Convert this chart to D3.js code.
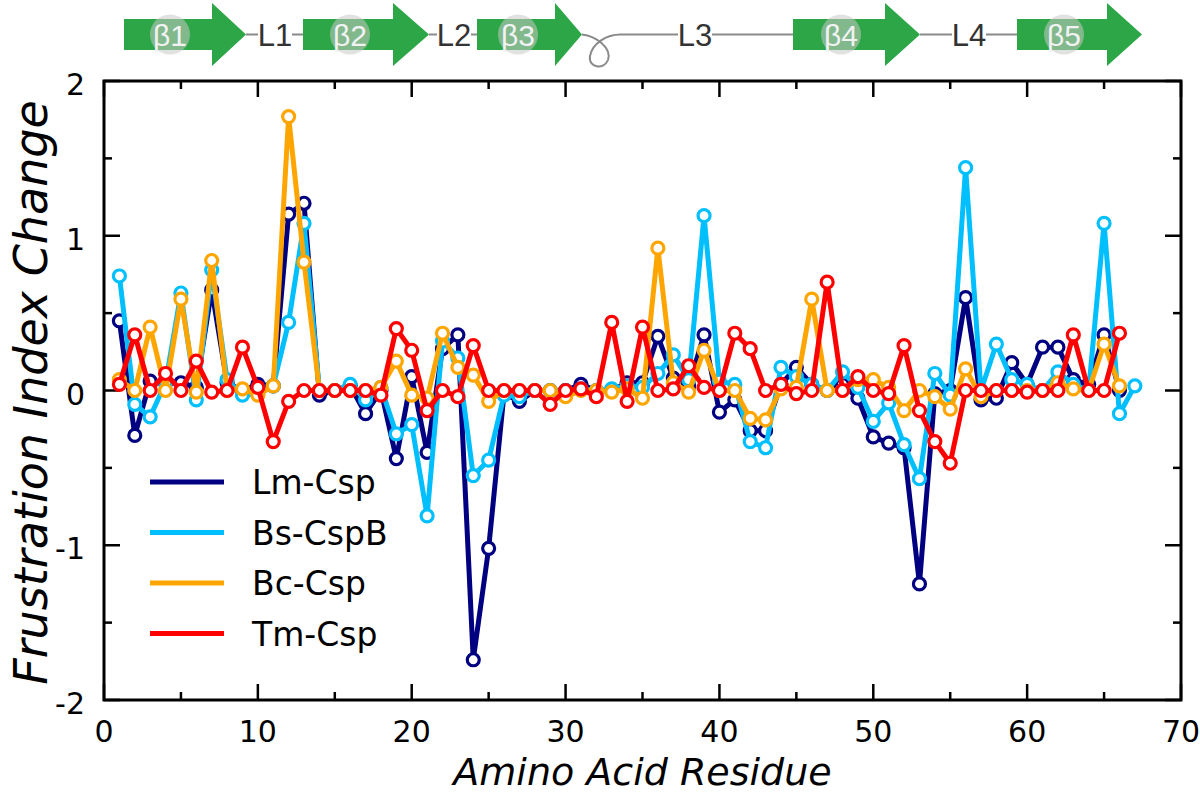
<!DOCTYPE html>
<html>
<head>
<meta charset="utf-8">
<script src="https://cdn.jsdelivr.net/npm/d3@7"></script>
<style>
  body { margin: 0; background: #fff; }
  svg { display: block; font-family: "DejaVu Sans", sans-serif; }
</style>
</head>
<body>
<div id="chart"></div>
<script>
// residues
var residues = d3.range(1, 67);
var residuesBs = d3.range(1, 68);

// frustration index change per residue
var lmCsp = [0.45, -0.29, 0.06, 0.05, 0.05, 0.02, 0.65, 0.05, 0.00, 0.04,
  0.03, 1.14, 1.21, -0.03, 0.00, 0.03, -0.15, 0.00, -0.44, 0.09,
  -0.40, 0.27, 0.36, -1.74, -1.02, -0.02, -0.07, 0.00, 0.00, 0.00,
  0.04, 0.00, 0.00, 0.05, 0.05, 0.35, 0.08, 0.03, 0.36, -0.14,
  -0.06, -0.26, -0.26, 0.04, 0.15, 0.04, 0.00, 0.04, -0.05, -0.30,
  -0.34, -0.37, -1.25, -0.02, 0.00, 0.60, -0.06, -0.05, 0.18, 0.04,
  0.28, 0.28, 0.07, 0.04, 0.36, 0.00];
var bsCspB = [0.74, -0.09, -0.17, 0.05, 0.63, -0.06, 0.78, 0.07, -0.03, -0.02,
  0.03, 0.44, 1.08, 0.00, 0.00, 0.04, -0.06, 0.02, -0.28, -0.22,
  -0.81, 0.32, 0.21, -0.55, -0.45, -0.03, -0.04, 0.00, 0.00, 0.00,
  0.01, 0.00, 0.01, 0.03, 0.02, 0.11, 0.23, 0.07, 1.13, 0.06,
  0.04, -0.33, -0.37, 0.15, 0.09, 0.04, 0.00, 0.12, 0.02, -0.20,
  -0.08, -0.35, -0.57, 0.11, -0.03, 1.44, 0.00, 0.30, 0.07, 0.04,
  0.00, 0.12, 0.04, 0.00, 1.08, -0.15, 0.03];
var bcCsp = [0.07, 0.00, 0.41, 0.00, 0.59, -0.01, 0.84, 0.00, 0.01, -0.03,
  0.03, 1.77, 0.83, 0.00, 0.00, 0.00, 0.00, 0.02, 0.19, -0.03,
  -0.05, 0.37, 0.15, 0.10, -0.07, 0.00, 0.00, 0.00, 0.00, -0.04,
  0.00, 0.00, -0.01, 0.01, -0.05, 0.92, 0.05, -0.01, 0.26, 0.00,
  0.00, -0.18, -0.19, 0.01, 0.02, 0.59, 0.00, 0.00, 0.07, 0.07,
  0.02, -0.13, 0.00, -0.04, -0.12, 0.14, -0.04, 0.00, 0.00, 0.00,
  0.00, 0.05, 0.01, 0.00, 0.30, 0.03];
var tmCsp = [0.04, 0.36, 0.00, 0.11, 0.00, 0.19, -0.01, 0.00, 0.28, 0.02,
  -0.33, -0.07, 0.00, 0.00, 0.00, 0.00, 0.00, -0.03, 0.40, 0.26,
  -0.13, 0.00, -0.04, 0.29, 0.00, 0.00, 0.00, 0.00, -0.09, 0.00,
  0.01, -0.04, 0.44, -0.07, 0.41, 0.00, 0.01, 0.16, 0.02, 0.00,
  0.37, 0.27, 0.00, 0.04, -0.02, 0.00, 0.70, 0.00, 0.09, 0.00,
  -0.02, 0.29, -0.13, -0.33, -0.47, 0.00, 0.00, 0.00, 0.00, -0.01,
  0.00, 0.00, 0.36, 0.00, 0.00, 0.37];

var seriesNames = ["Lm-Csp", "Bs-CspB", "Bc-Csp", "Tm-Csp"];
var seriesColors = ["#000080", "#00bfff", "#ffa500", "#ff0000"];

var xTicks = [0, 10, 20, 30, 40, 50, 60, 70];
var yTicks = [-2, -1, 0, 1, 2];

// secondary structure strip (drawn in page pixels along the top)
var strands = [
  {label: "β1", x0: 124, x1: 212, tip: 246},
  {label: "β2", x0: 303, x1: 393, tip: 429},
  {label: "β3", x0: 477, x1: 555, tip: 582},
  {label: "β4", x0: 793, x1: 885, tip: 920},
  {label: "β5", x0: 1017, x1: 1107, tip: 1142}
];
var loops = [
  {label: "L1", x: 275},
  {label: "L2", x: 454},
  {label: "L3", x: 695},
  {label: "L4", x: 969}
];

var width = 1200, height = 795;
var pad = {left: 104, right: 19, top: 81, bottom: 95};

var svg = d3.select('#chart').append('svg')
  .attr('width', width)
  .attr('height', height);

var x = d3.scaleLinear().domain([0, 70]).range([pad.left, width - pad.right]);
var y = d3.scaleLinear().domain([-2, 2]).range([height - pad.bottom, pad.top]);

// ---- topology strip ----
var strip = svg.append('g');
var midY = 34.5;

var links = [[246, 303], [429, 477], [622, 793], [920, 1017]];
strip.selectAll('.link')
  .data(links)
  .enter()
  .append('line')
  .attr('x1', function(d){ return d[0]; })
  .attr('x2', function(d){ return d[1]; })
  .attr('y1', midY).attr('y2', midY)
  .attr('stroke', '#8a8a8a').attr('stroke-width', 2);

// the little loop after beta3
strip.append('path')
  .attr('d', 'M582,' + midY + ' C596,36 612,48 608,60 C604,70 588,68 590,56 C592,44 606,34 622,' + midY)
  .attr('fill', 'none')
  .attr('stroke', '#8a8a8a')
  .attr('stroke-width', 2);

strip.selectAll('.strand')
  .data(strands)
  .enter()
  .append('path')
  .attr('d', function(d){
    return 'M' + d.x0 + ',19 L' + d.x1 + ',19 L' + d.x1 + ',3 L' + d.tip + ',' + midY +
      ' L' + d.x1 + ',66 L' + d.x1 + ',50 L' + d.x0 + ',50 Z';
  })
  .attr('fill', '#2ca646');

strip.selectAll('.bead')
  .data(strands)
  .enter()
  .append('circle')
  .attr('cx', function(d){ return (d.x0 + d.x1) / 2 + 2; })
  .attr('cy', midY)
  .attr('r', 20)
  .attr('fill', '#c8c8c8')
  .attr('opacity', 0.55);

strip.selectAll('.slabel')
  .data(strands)
  .enter()
  .append('text')
  .attr('x', function(d){ return (d.x0 + d.x1) / 2 + 2; })
  .attr('y', midY + 11)
  .attr('text-anchor', 'middle')
  .style('font-family', '"Liberation Sans Narrow", "Liberation Sans", sans-serif')
  .style('font-size', '30px')
  .attr('fill', '#f2f2f2')
  .text(function(d){ return d.label; });

strip.selectAll('.lbox')
  .data(loops)
  .enter()
  .append('rect')
  .attr('x', function(d){ return d.x - 17; })
  .attr('y', midY - 14)
  .attr('width', 34)
  .attr('height', 28)
  .attr('fill', '#fff');

strip.selectAll('.ltext')
  .data(loops)
  .enter()
  .append('text')
  .attr('x', function(d){ return d.x; })
  .attr('y', midY + 11)
  .attr('text-anchor', 'middle')
  .style('font-family', '"Liberation Sans Narrow", "Liberation Sans", sans-serif')
  .style('font-size', '31px')
  .attr('fill', '#333')
  .text(function(d){ return d.label; });

// ---- frame and ticks ----
var plot = svg.append('g');

function minorTicks(domain, step){
  var out = [];
  for(var v = domain[0]; v <= domain[1] + 1e-9; v += step) out.push(+v.toFixed(3));
  return out;
}

var xMinor = minorTicks([0, 70], 5);
var yMinor = minorTicks([-2, 2], 0.5);

function tickLen(v, step){ return Math.abs(v / step - Math.round(v / step)) < 1e-6 ? 16 : 8; }

plot.selectAll('.xt-b')
  .data(xMinor)
  .enter()
  .append('line')
  .attr('x1', function(d){ return x(d); })
  .attr('x2', function(d){ return x(d); })
  .attr('y1', y(-2))
  .attr('y2', function(d){ return y(-2) - tickLen(d, 10); })
  .attr('stroke', '#000').attr('stroke-width', 2.5);
plot.selectAll('.xt-t')
  .data(xMinor)
  .enter()
  .append('line')
  .attr('x1', function(d){ return x(d); })
  .attr('x2', function(d){ return x(d); })
  .attr('y1', y(2))
  .attr('y2', function(d){ return y(2) + tickLen(d, 10); })
  .attr('stroke', '#000').attr('stroke-width', 2.5);
plot.selectAll('.yt-l')
  .data(yMinor)
  .enter()
  .append('line')
  .attr('y1', function(d){ return y(d); })
  .attr('y2', function(d){ return y(d); })
  .attr('x1', x(0))
  .attr('x2', function(d){ return x(0) + tickLen(d, 1); })
  .attr('stroke', '#000').attr('stroke-width', 2.5);
plot.selectAll('.yt-r')
  .data(yMinor)
  .enter()
  .append('line')
  .attr('y1', function(d){ return y(d); })
  .attr('y2', function(d){ return y(d); })
  .attr('x1', x(70))
  .attr('x2', function(d){ return x(70) - tickLen(d, 1); })
  .attr('stroke', '#000').attr('stroke-width', 2.5);

plot.append('rect')
  .attr('x', x(0)).attr('y', y(2))
  .attr('width', x(70) - x(0))
  .attr('height', y(-2) - y(2))
  .attr('fill', 'none')
  .attr('stroke', '#000')
  .attr('stroke-width', 3);

plot.selectAll('.xl')
  .data(xTicks)
  .enter()
  .append('text')
  .attr('x', function(d){ return x(d); })
  .attr('y', y(-2) + 42)
  .attr('text-anchor', 'middle')
  .style('font-size', '30px')
  .text(function(d){ return d; });

plot.selectAll('.yl')
  .data(yTicks)
  .enter()
  .append('text')
  .attr('x', x(0) - 19)
  .attr('y', function(d){ return y(d) + 14; })
  .attr('text-anchor', 'end')
  .style('font-size', '30px')
  .text(function(d){ return d < 0 ? '-' + Math.abs(d) : d; });

svg.append('text')
  .attr('x', (x(0) + x(70)) / 2)
  .attr('y', 785)
  .attr('text-anchor', 'middle')
  .style('font-size', '38px')
  .style('font-style', 'italic')
  .text('Amino Acid Residue');

svg.append('text')
  .attr('transform', 'translate(47,' + (y(0) + 2) + ') rotate(-90)')
  .attr('text-anchor', 'middle')
  .style('font-size', '46px')
  .style('font-style', 'italic')
  .text('Frustration Index Change');

// ---- series ----
var series = [
  {name: seriesNames[0], color: seriesColors[0], xs: residues, ys: lmCsp},
  {name: seriesNames[1], color: seriesColors[1], xs: residuesBs, ys: bsCspB},
  {name: seriesNames[2], color: seriesColors[2], xs: residues, ys: bcCsp},
  {name: seriesNames[3], color: seriesColors[3], xs: residues, ys: tmCsp}
];

var line = d3.line()
  .x(function(d){ return x(d[0]); })
  .y(function(d){ return y(d[1]); });

series.forEach(function(s){
  var pts = s.xs.map(function(r, i){ return [r, s.ys[i]]; });
  var g = svg.append('g');
  g.append('path')
    .attr('d', line(pts))
    .attr('fill', 'none')
    .attr('stroke', s.color)
    .attr('stroke-width', 5)
    .attr('stroke-linejoin', 'round');
  g.selectAll('circle')
    .data(pts)
    .enter()
    .append('circle')
    .attr('cx', function(d){ return x(d[0]); })
    .attr('cy', function(d){ return y(d[1]); })
    .attr('r', 6)
    .attr('fill', '#fff')
    .attr('stroke', s.color)
    .attr('stroke-width', 3.2);
});

// ---- legend ----
var legend = svg.append('g').attr('transform', 'translate(150,482)');
var item = legend.selectAll('g')
  .data(series)
  .enter()
  .append('g')
  .attr('transform', function(d, i){ return 'translate(0,' + (i * 50.5) + ')'; });
item.append('line')
  .attr('x1', 0).attr('x2', 74)
  .attr('stroke', function(d){ return d.color; })
  .attr('stroke-width', 5);
item.append('text')
  .attr('x', 102)
  .attr('y', 12)
  .style('font-size', '33px')
  .text(function(d){ return d.name; });
</script>
</body>
</html>
